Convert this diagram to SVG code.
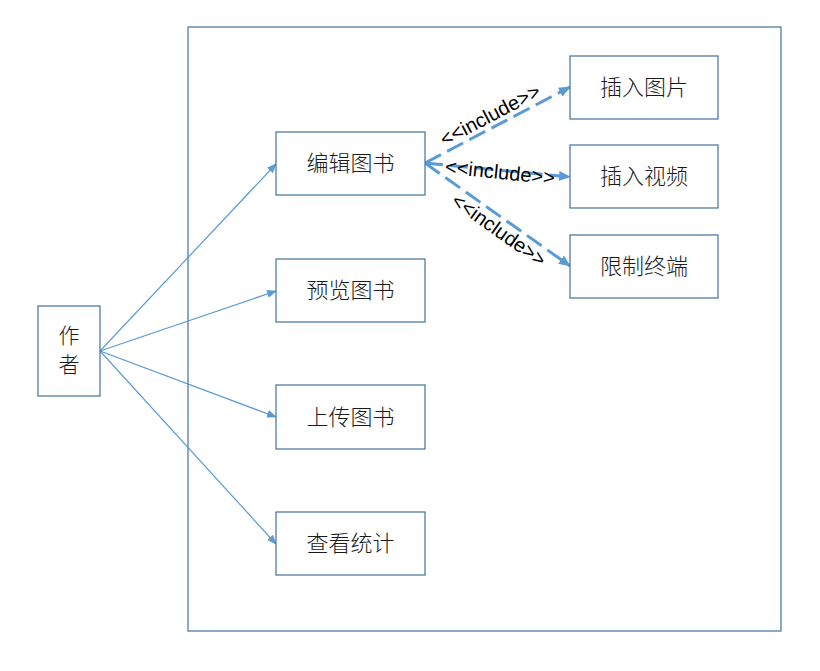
<svg xmlns="http://www.w3.org/2000/svg" width="820" height="671" viewBox="0 0 820 671">
<style>
.box{fill:#fff;stroke:#41719C;stroke-width:1.2}
.t{font-family:"Noto Sans CJK SC","Liberation Sans",sans-serif;font-size:22px;font-weight:300;fill:#1a1a1a;text-anchor:middle;dominant-baseline:central}
.lbl{font-family:"Liberation Sans","Noto Sans",sans-serif;font-size:20px;fill:#000;text-anchor:middle;dominant-baseline:central}
.assoc{stroke:#5B9BD5;stroke-width:1.2;fill:none}
.inc{stroke:#5B9BD5;stroke-width:3;stroke-dasharray:18,7;fill:none}
</style>
<defs>
<marker id="a1" markerWidth="10" markerHeight="8" refX="9" refY="4" orient="auto" markerUnits="userSpaceOnUse"><path d="M0,0 L10,4 L0,8 z" fill="#5B9BD5"/></marker>
<marker id="a2" markerWidth="12" markerHeight="10" refX="11" refY="5" orient="auto" markerUnits="userSpaceOnUse"><path d="M0,0 L12,5 L0,10 z" fill="#5B9BD5"/></marker>
</defs>
<rect width="820" height="671" fill="#fff"/>
<rect x="188" y="27" width="593" height="604" fill="none" stroke="#41719C" stroke-width="1.2"/>
<g id="connectors">
<line class="assoc" x1="100" y1="351" x2="276" y2="164" marker-end="url(#a1)"/>
<line class="assoc" x1="100" y1="351" x2="276" y2="291" marker-end="url(#a1)"/>
<line class="assoc" x1="100" y1="351" x2="276" y2="417" marker-end="url(#a1)"/>
<line class="assoc" x1="100" y1="351" x2="276" y2="544" marker-end="url(#a1)"/>
<line class="inc" x1="425" y1="163" x2="570" y2="87" marker-end="url(#a2)"/>
<line class="inc" x1="425" y1="163" x2="570" y2="177" marker-end="url(#a2)"/>
<line class="inc" x1="425" y1="163" x2="570" y2="266" marker-end="url(#a2)"/>
<text class="lbl" transform="translate(490,115) rotate(-27.7)">&lt;&lt;include&gt;&gt;</text>
<text class="lbl" transform="translate(500,172) rotate(6)">&lt;&lt;include&gt;&gt;</text>
<text class="lbl" transform="translate(499,230) rotate(35.4)">&lt;&lt;include&gt;&gt;</text>
</g>
<g id="actor"><rect class="box" x="38" y="306" width="62" height="90"/><text class="t" style="font-size:21px" x="69" y="334"><tspan x="69">作</tspan><tspan x="69" dy="29">者</tspan></text></g>
<g id="edit"><rect class="box" x="276" y="132" width="149" height="63"/><text class="t" x="350.5" y="161">编辑图书</text></g>
<g id="preview"><rect class="box" x="276" y="259" width="149" height="63"/><text class="t" x="350.5" y="288">预览图书</text></g>
<g id="upload"><rect class="box" x="276" y="385" width="149" height="64"/><text class="t" x="350.5" y="414.5">上传图书</text></g>
<g id="stats"><rect class="box" x="276" y="512" width="149" height="63"/><text class="t" x="350.5" y="541">查看统计</text></g>
<g id="img"><rect class="box" x="570" y="56" width="148" height="63"/><text class="t" x="644" y="85">插入图片</text></g>
<g id="video"><rect class="box" x="570" y="145" width="148" height="63"/><text class="t" x="644" y="174">插入视频</text></g>
<g id="limit"><rect class="box" x="570" y="235" width="148" height="63"/><text class="t" x="644" y="264">限制终端</text></g>
</svg>
